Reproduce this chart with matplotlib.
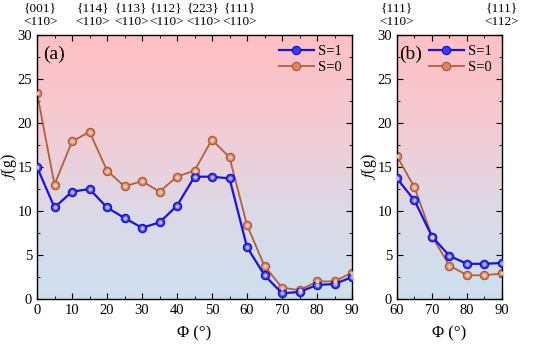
import matplotlib
matplotlib.use("Agg")
import matplotlib.pyplot as plt
import numpy as np
from matplotlib.colors import LinearSegmentedColormap
from matplotlib.ticker import MultipleLocator

plt.rcParams['font.family'] = ['Liberation Serif', 'DejaVu Serif']
plt.rcParams['mathtext.fontset'] = 'stix'

# panel (a) data
phi_a = [0, 5, 10, 15, 20, 25, 30, 35, 40, 45, 50, 55, 60, 65, 70, 75, 80, 85, 90]
s1_a = [15.0, 10.4, 12.2, 12.5, 10.4, 9.2, 8.1, 8.7, 10.6, 13.9, 13.9, 13.7, 5.9, 2.7, 0.65, 0.8, 1.6, 1.7, 2.5]
s0_a = [23.4, 13.0, 17.9, 19.0, 14.6, 12.8, 13.4, 12.2, 13.9, 14.6, 18.1, 16.1, 8.4, 3.75, 1.3, 1.0, 2.0, 2.0, 3.0]

# panel (b) data
phi_b = [60, 65, 70, 75, 80, 85, 90]
s1_b = [13.7, 11.2, 7.1, 4.9, 4.0, 4.0, 4.1]
s0_b = [16.2, 12.7, 7.1, 3.8, 2.7, 2.7, 2.9]

# top labels (plane / direction)
top_a_pos = [1, 16, 27, 37, 47.5, 58]
top_a_lab = ['{001}\n<110>', '{114}\n<110>', '{113}\n<110>', '{112}\n<110>', '{223}\n<110>', '{111}\n<110>']
top_b_pos = [60, 90]
top_b_lab = ['{111}\n<110>', '{111}\n<112>']

blue = '#1a10e8'
brown = '#b0603c'
cmap = LinearSegmentedColormap.from_list('bg', ['#cde0ee', '#dcd9e6', '#f5cad2', '#ffc0c4'], N=256)

fig = plt.figure(figsize=(5.5, 3.46), dpi=100)
ax_a = fig.add_axes([0.0673, 0.1358, 0.5727, 0.763])
ax_b = fig.add_axes([0.7218, 0.1358, 0.1909, 0.763])


def draw(ax, x, y1, y0, xlim, major, panel, tpos, tlab):
    grad = np.linspace(0, 1, 256).reshape(-1, 1)
    ax.imshow(grad, cmap=cmap, origin='lower', aspect='auto',
              extent=[0, 1, 0, 1], transform=ax.transAxes, zorder=0)
    ax.plot(x, y1, '-o', color=blue, lw=1.6, ms=6, mfc='#3a3aff', mec='#1010c0',
            mew=0.8, label='S=1', zorder=3)
    ax.plot(x, y0, '-o', color=brown, lw=1.3, ms=6, mfc='#e58060', mec='#a05a3a',
            mew=0.8, label='S=0', zorder=2)
    # small highlights to mimic the shaded balls
    ax.plot(x, y1, 'o', ms=2, color='#b8b8ff', zorder=4)
    ax.plot(x, y0, 'o', ms=2, color='#f5c8b0', zorder=4)
    ax.set_xlim(*xlim)
    ax.set_ylim(0, 30)
    ax.xaxis.set_major_locator(MultipleLocator(major))
    ax.xaxis.set_minor_locator(MultipleLocator(major / 2))
    ax.yaxis.set_major_locator(MultipleLocator(5))
    ax.yaxis.set_minor_locator(MultipleLocator(2.5))
    ax.tick_params(which='both', direction='in', top=True, right=True, labelsize=10.5)
    ax.tick_params(which='major', length=4)
    ax.tick_params(which='minor', length=2)
    for s in ax.spines.values():
        s.set_linewidth(1.0)
    ax.set_xlabel('Φ (°)', fontsize=12, labelpad=6)
    ax.set_ylabel(r'$f$(g)', fontsize=11.5, labelpad=-1)
    ax.text(0.02, 0.96, panel, transform=ax.transAxes, fontsize=14, va='top', ha='left')
    ax.legend(loc='upper right', frameon=False, fontsize=10.5, handlelength=2.4,
              handletextpad=0.3, borderaxespad=0.3, labelspacing=0.15)
    for p, t in zip(tpos, tlab):
        ax.text(p, 1.025, t, transform=ax.get_xaxis_transform(), ha='center',
                va='bottom', fontsize=9.5, linespacing=1.2)


draw(ax_a, phi_a, s1_a, s0_a, (0, 90), 10, '(a)', top_a_pos, top_a_lab)
draw(ax_b, phi_b, s1_b, s0_b, (60, 90), 10, '(b)', top_b_pos, top_b_lab)

fig.savefig('out.png', dpi=100)
